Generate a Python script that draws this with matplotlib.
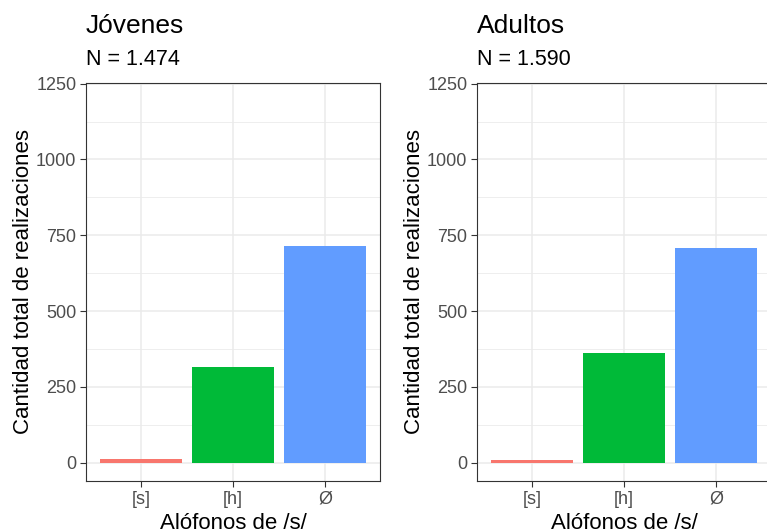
import matplotlib
matplotlib.use("Agg")
from matplotlib import pyplot as plt

# datos
categorias = ['[s]', '[h]', 'Ø']
colores = ['#F8766D', '#00BA38', '#619CFF']
jovenes = [13, 316, 714]
adultos = [10, 363, 709]
titulos = ['Jóvenes', 'Adultos']
subtitulos = ['N = 1.474', 'N = 1.590']
yticks = [0, 250, 500, 750, 1000, 1250]
yminor = [125, 375, 625, 875, 1125]

plt.rcParams['font.family'] = ['Liberation Sans', 'DejaVu Sans']

W, H = 767, 530
fig = plt.figure(figsize=(W / 100, H / 100), dpi=100)
TOP, BOTTOM = 83, 481

def panel(left, valores, titulo, subtitulo):
    ax = fig.add_axes([left / W, (H - BOTTOM) / H, 294 / W, (BOTTOM - TOP) / H])
    x = range(1, len(categorias) + 1)
    ax.bar(x, valores, width=0.9, color=colores, zorder=3)
    ax.set_xlim(0.4, 3.6)
    ax.set_ylim(-60, 1252)
    ax.set_xticks(list(x))
    ax.set_xticklabels(categorias)
    ax.set_yticks(yticks)
    ax.set_yticks(yminor, minor=True)
    ax.grid(True, which='major', color='#EBEBEB', lw=1.1, zorder=0)
    ax.grid(True, which='minor', axis='y', color='#EBEBEB', lw=0.6, zorder=0)
    ax.tick_params(which='major', length=4, width=0.8, color='#333333',
                   labelcolor='#4D4D4D', labelsize=13, pad=3)
    ax.tick_params(which='minor', length=0)
    for s in ax.spines.values():
        s.set_color('#333333')
        s.set_linewidth(0.8)
    ax.set_ylabel('Cantidad total de realizaciones', fontsize=16, labelpad=1.5)
    ax.set_xlabel('Alófonos de /s/', fontsize=16, labelpad=4)
    ax.text(0, 1 + 50 / (BOTTOM - TOP), titulo, transform=ax.transAxes,
            fontsize=19, ha='left', va='baseline')
    ax.text(0, 1 + 18 / (BOTTOM - TOP), subtitulo, transform=ax.transAxes,
            fontsize=15.5, ha='left', va='baseline')
    return ax

panel(86, jovenes, titulos[0], subtitulos[0])
panel(477, adultos, titulos[1], subtitulos[1])

fig.savefig('out.png', dpi=100)
